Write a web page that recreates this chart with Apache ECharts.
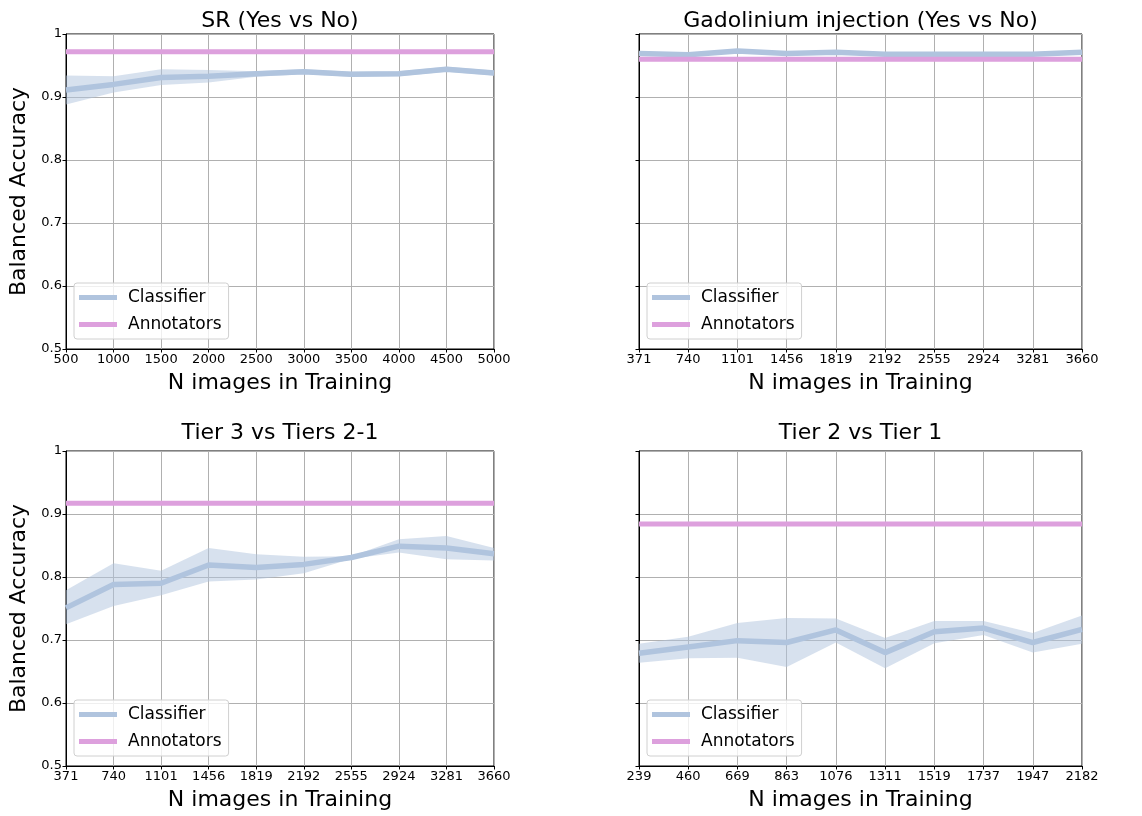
<!DOCTYPE html>
<html>
<head>
<meta charset="utf-8">
<script src="https://cdn.jsdelivr.net/npm/echarts@6/dist/echarts.min.js"></script>
<style>
  html, body { margin: 0; padding: 0; background: #fff; }
  #chart { width: 1142px; height: 816px; }
</style>
</head>
<body>
<div id="chart"></div>
<script>
// 各子图的标题与横轴刻度
const titles = ['SR (Yes vs No)', 'Gadolinium injection (Yes vs No)', 'Tier 3 vs Tiers 2-1', 'Tier 2 vs Tier 1'];
const xSR = ['500', '1000', '1500', '2000', '2500', '3000', '3500', '4000', '4500', '5000'];
const xGado = ['371', '740', '1101', '1456', '1819', '2192', '2555', '2924', '3281', '3660'];
const xTier3 = ['371', '740', '1101', '1456', '1819', '2192', '2555', '2924', '3281', '3660'];
const xTier2 = ['239', '460', '669', '863', '1076', '1311', '1519', '1737', '1947', '2182'];

// 分类器均值与上下界
const clfSR = [0.911, 0.920, 0.931, 0.933, 0.937, 0.940, 0.936, 0.937, 0.944, 0.938];
const lowSR = [0.888, 0.907, 0.919, 0.923, 0.932, 0.936, 0.932, 0.933, 0.940, 0.934];
const highSR = [0.934, 0.933, 0.944, 0.943, 0.941, 0.944, 0.940, 0.941, 0.948, 0.942];

const clfGado = [0.969, 0.967, 0.973, 0.969, 0.971, 0.968, 0.968, 0.968, 0.968, 0.971];
const lowGado = [0.967, 0.965, 0.971, 0.967, 0.969, 0.966, 0.966, 0.966, 0.966, 0.969];
const highGado = [0.971, 0.969, 0.975, 0.971, 0.973, 0.970, 0.970, 0.970, 0.970, 0.973];

const clfTier3 = [0.751, 0.788, 0.790, 0.819, 0.815, 0.820, 0.831, 0.849, 0.846, 0.837];
const lowTier3 = [0.725, 0.754, 0.771, 0.793, 0.796, 0.806, 0.829, 0.839, 0.828, 0.826];
const highTier3 = [0.779, 0.822, 0.810, 0.846, 0.836, 0.832, 0.833, 0.860, 0.865, 0.846];

const clfTier2 = [0.679, 0.689, 0.699, 0.696, 0.716, 0.680, 0.713, 0.719, 0.696, 0.717];
const lowTier2 = [0.664, 0.671, 0.672, 0.657, 0.696, 0.655, 0.695, 0.708, 0.680, 0.694];
const highTier2 = [0.694, 0.705, 0.727, 0.735, 0.734, 0.703, 0.730, 0.730, 0.711, 0.739];

// 标注者水平
const annotators = [0.972, 0.960, 0.917, 0.884];

const panels = [
    { x: xSR, clf: clfSR, low: lowSR, high: highSR },
    { x: xGado, clf: clfGado, low: lowGado, high: highGado },
    { x: xTier3, clf: clfTier3, low: lowTier3, high: highTier3 },
    { x: xTier2, clf: clfTier2, low: lowTier2, high: highTier2 }
];

// 网格位置（像素）
const gridPos = [
    { left: 66, top: 34, width: 428, height: 315 },
    { left: 639, top: 34, width: 443, height: 315 },
    { left: 66, top: 451, width: 428, height: 315 },
    { left: 639, top: 451, width: 443, height: 315 }
];
const titleTop = [10, 10, 422, 422];

const FONT = 'DejaVu Sans';
const BLUE = '#b0c4de';
const PINK = '#dda0dd';

const option = {
    animation: false,
    backgroundColor: '#fff',
    textStyle: { fontFamily: FONT, color: '#000' },
    title: [],
    legend: [],
    grid: [],
    xAxis: [],
    yAxis: [],
    series: []
};

panels.forEach((p, i) => {
    const g = gridPos[i];
    const isLeft = i % 2 === 0;

    option.grid.push({
        left: g.left, top: g.top, width: g.width, height: g.height,
        show: true, borderColor: '#000', borderWidth: 1, backgroundColor: 'transparent'
    });

    option.title.push({
        text: titles[i],
        left: g.left + g.width / 2,
        top: titleTop[i],
        textAlign: 'center',
        padding: 0,
        textStyle: { fontFamily: FONT, fontSize: 22, fontWeight: 'normal', color: '#000' }
    });

    option.xAxis.push({
        type: 'category',
        gridIndex: i,
        data: p.x,
        boundaryGap: false,
        name: 'N images in Training',
        nameLocation: 'middle',
        nameGap: 23,
        nameTextStyle: { fontFamily: FONT, fontSize: 22, color: '#000' },
        axisLine: { show: true, lineStyle: { color: '#000', width: 1 } },
        axisTick: { show: true, alignWithLabel: true, length: 3.5, lineStyle: { color: '#000' } },
        axisLabel: { interval: 0, margin: 4, fontFamily: FONT, fontSize: 13, color: '#000' },
        splitLine: { show: true, lineStyle: { color: '#b0b0b0', width: 1 } }
    });

    option.yAxis.push({
        type: 'value',
        gridIndex: i,
        min: 0.5,
        max: 1,
        interval: 0.1,
        name: isLeft ? 'Balanced Accuracy' : '',
        nameLocation: 'middle',
        nameGap: 36,
        nameTextStyle: { fontFamily: FONT, fontSize: 22, color: '#000' },
        axisLine: { show: true, lineStyle: { color: '#000', width: 1 } },
        axisTick: { show: true, length: 3.5, lineStyle: { color: '#000' } },
        axisLabel: {
            show: isLeft, margin: 4, fontFamily: FONT, fontSize: 13, color: '#000',
            formatter: v => String(Math.round(v * 10) / 10)
        },
        splitLine: { show: true, lineStyle: { color: '#b0b0b0', width: 1 } }
    });

    // 置信带：下界 + 差值堆叠
    option.series.push({
        name: 'low' + i,
        type: 'line',
        xAxisIndex: i, yAxisIndex: i,
        data: p.low,
        stack: 'band' + i,
        symbol: 'none',
        silent: true,
        lineStyle: { opacity: 0 }
    });
    option.series.push({
        name: 'band' + i,
        type: 'line',
        xAxisIndex: i, yAxisIndex: i,
        data: p.high.map((h, k) => +(h - p.low[k]).toFixed(4)),
        stack: 'band' + i,
        symbol: 'none',
        silent: true,
        lineStyle: { opacity: 0 },
        areaStyle: { color: 'rgba(176,196,222,0.5)', opacity: 1 }
    });
    option.series.push({
        name: 'Classifier',
        type: 'line',
        xAxisIndex: i, yAxisIndex: i,
        data: p.clf,
        symbol: 'none',
        color: BLUE,
        lineStyle: { color: BLUE, width: 5.5 },
        z: 3
    });
    option.series.push({
        name: 'Annotators',
        type: 'line',
        xAxisIndex: i, yAxisIndex: i,
        data: p.x.map(() => annotators[i]),
        symbol: 'none',
        color: PINK,
        lineStyle: { color: PINK, width: 5 },
        z: 4
    });

    option.legend.push({
        data: ['Classifier', 'Annotators'],
        orient: 'vertical',
        left: g.left + 8,
        top: g.top + 249,
        icon: 'rect',
        itemWidth: 38,
        itemHeight: 5,
        itemGap: 10,
        padding: [6, 7, 6, 5],
        backgroundColor: 'rgba(255,255,255,0.8)',
        borderColor: '#d0d0d0',
        borderWidth: 1,
        borderRadius: 3,
        selectedMode: false,
        textStyle: { fontFamily: FONT, fontSize: 17, color: '#000', padding: [0, 0, 0, 6] }
    });
});

const chart = echarts.init(document.getElementById('chart'));
chart.setOption(option);
</script>
</body>
</html>
